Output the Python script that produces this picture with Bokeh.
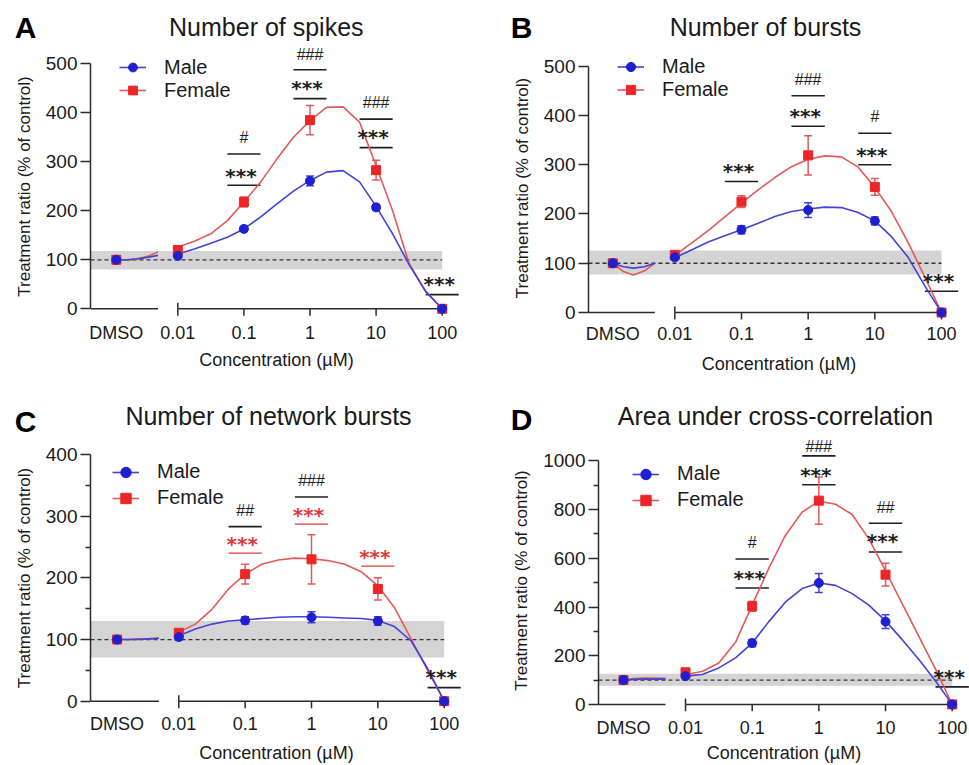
import numpy as np
from bokeh.plotting import figure
from bokeh.layouts import column, row
from bokeh.models import ColumnDataSource, Range1d, FixedTicker, Legend, LegendItem
from bokeh.core.properties import value
from bokeh.embed import file_html
from bokeh.resources import INLINE

# ------------------------------------------------------------------ data
CONCENTRATIONS = [0.01, 0.1, 1, 10, 100]            # µM
CONC_TICK_LABELS = ["0.01", "0.1", "1", "10", "100"]
CONTROL_LABEL = "DMSO"
CONTROL_LEVEL = 100
SERIES_NAMES = ["Male", "Female"]
X_AXIS_TITLE = "Concentration (µM)"
Y_AXIS_TITLE = "Treatment ratio (% of control)"
PANEL_LETTERS = ["A", "B", "C", "D"]

# sample positions (log10 µM) of the fitted curves
FIT_LOG_CONC = [-2.0, -1.75, -1.5, -1.25, -1.0, -0.75, -0.5, -0.25, 0.0,
                0.25, 0.5, 0.75, 1.0, 1.25, 1.5, 1.75, 2.0]
DMSO_FIT_LOG_X = [-2.93, -2.77, -2.62, -2.46, -2.30]

# ---- A: Number of spikes (values: DMSO, 0.01, 0.1, 1, 10, 100)
A_TITLE = "Number of spikes"
A_MALE = [100, 108, 163, 261, 207, 0]
A_MALE_SEM = [0, 4, 5, 10, 6, 0]
A_FEMALE = [100, 120, 218, 385, 283, 0]
A_FEMALE_SEM = [0, 6, 10, 30, 20, 0]
A_MALE_FIT = [112, 122, 134, 146, 163, 187, 214, 240, 262, 279, 282, 259, 209, 153, 90, 35, 0]
A_FEMALE_FIT = [126, 138, 153, 180, 218, 258, 306, 350, 384, 411, 412, 381, 292, 200, 92, 36, 0]
A_MALE_DMSO_FIT = [100, 100, 102, 105, 109]
A_FEMALE_DMSO_FIT = [100, 99, 101, 107, 116]
A_BAND = [80, 118]
A_Y_TICKS = [0, 100, 200, 300, 400, 500]
A_Y_MINOR = []
A_SIG_CONC = [0.1, 0.1, 1, 1, 10, 10, 100]
A_SIG_TEXT = ["***", "#", "***", "###", "***", "###", "***"]
A_SIG_TEXT_Y = [280, 350, 459, 520, 358, 421, 58]
A_SIG_LINE_Y = [252, 316, 429, 488, 329, 387, 29]
A_SIG_RED = [False, False, False, False, False, False, False]

# ---- B: Number of bursts
B_TITLE = "Number of bursts"
B_MALE = [100, 112, 168, 208, 186, 0]
B_MALE_SEM = [0, 5, 8, 15, 8, 0]
B_FEMALE = [100, 117, 225, 319, 255, 0]
B_FEMALE_SEM = [0, 5, 12, 40, 17, 0]
B_MALE_FIT = [111, 127, 143, 156, 168, 181, 195, 205, 210, 214, 213, 203, 186, 154, 112, 54, 0]
B_FEMALE_FIT = [116, 141, 166, 194, 222, 249, 274, 296, 311, 318, 316, 295, 254, 205, 142, 72, 0]
B_MALE_DMSO_FIT = [100, 93, 90, 93, 100]
B_FEMALE_DMSO_FIT = [100, 83, 76, 84, 100]
B_BAND = [77, 126]
B_Y_TICKS = [0, 100, 200, 300, 400, 500]
B_Y_MINOR = []
B_SIG_CONC = [0.1, 1, 1, 10, 10, 100]
B_SIG_TEXT = ["***", "***", "###", "***", "#", "***"]
B_SIG_TEXT_Y = [295, 407, 474, 328, 397, 72]
B_SIG_LINE_Y = [266, 378, 440, 300, 364, 43]
B_SIG_RED = [False, False, False, False, False, False]

# ---- C: Number of network bursts
C_TITLE = "Number of network bursts"
C_MALE = [100, 104, 131, 136, 130, 0]
C_MALE_SEM = [0, 5, 6, 9, 7, 0]
C_FEMALE = [100, 111, 206, 230, 182, 0]
C_FEMALE_SEM = [0, 5, 16, 40, 18, 0]
C_MALE_FIT = [106, 117, 125, 130, 132, 134, 136, 137, 137, 136, 135, 134, 131, 121, 98, 53, 0]
C_FEMALE_FIT = [112, 125, 149, 182, 206, 222, 229, 232, 231, 228, 222, 210, 187, 152, 101, 50, 0]
C_MALE_DMSO_FIT = [100, 100, 100, 101, 102]
C_FEMALE_DMSO_FIT = [100, 100, 101, 101, 102]
C_BAND = [71, 130]
C_Y_TICKS = [0, 100, 200, 300, 400]
C_Y_MINOR = [50, 150, 250, 350]
C_SIG_CONC = [0.1, 0.1, 1, 1, 10, 100]
C_SIG_TEXT = ["***", "##", "***", "###", "***", "***"]
C_SIG_TEXT_Y = [262, 309, 309, 358, 241, 45]
C_SIG_LINE_Y = [240, 283, 287, 331, 219, 22]
C_SIG_RED = [True, False, True, False, True, False]

# ---- D: Area under cross-correlation
D_TITLE = "Area under cross-correlation"
D_MALE = [100, 116, 252, 499, 340, 0]
D_MALE_SEM = [0, 10, 15, 39, 28, 0]
D_FEMALE = [100, 132, 403, 837, 533, 0]
D_FEMALE_SEM = [0, 12, 20, 97, 47, 0]
D_MALE_FIT = [116, 123, 150, 191, 252, 340, 421, 476, 499, 489, 455, 408, 343, 266, 184, 96, 0]
D_FEMALE_FIT = [123, 135, 170, 255, 408, 560, 695, 790, 835, 822, 780, 680, 548, 414, 279, 145, 0]
D_MALE_DMSO_FIT = [100, 103, 104, 104, 104]
D_FEMALE_DMSO_FIT = [100, 106, 108, 108, 107]
D_BAND = [77, 126]
D_Y_TICKS = [0, 200, 400, 600, 800, 1000]
D_Y_MINOR = [100, 300, 500, 700, 900]
D_SIG_CONC = [0.1, 0.1, 1, 1, 10, 10, 100]
D_SIG_TEXT = ["***", "#", "***", "###", "***", "##", "***"]
D_SIG_TEXT_Y = [537, 665, 960, 1060, 686, 810, 130]
D_SIG_LINE_Y = [478, 597, 902, 1021, 626, 744, 72]
D_SIG_RED = [False, False, False, False, False, False, False]


def panel(title, male, male_sem, female, female_sem, male_fit, female_fit, male_dfit, female_dfit,
          band, yticks, yminor, sig_conc, sig_text, sig_ty, sig_ly, sig_red):
    return dict(title=title, male=male, male_sem=male_sem, female=female, female_sem=female_sem,
                male_fit=male_fit, female_fit=female_fit, male_dfit=male_dfit, female_dfit=female_dfit,
                band=band, yticks=yticks, yminor=yminor, sig_conc=sig_conc, sig_text=sig_text,
                sig_ty=sig_ty, sig_ly=sig_ly, sig_red=sig_red)


PANELS = [
    panel(A_TITLE, A_MALE, A_MALE_SEM, A_FEMALE, A_FEMALE_SEM, A_MALE_FIT, A_FEMALE_FIT, A_MALE_DMSO_FIT,
          A_FEMALE_DMSO_FIT, A_BAND, A_Y_TICKS, A_Y_MINOR, A_SIG_CONC, A_SIG_TEXT, A_SIG_TEXT_Y, A_SIG_LINE_Y,
          A_SIG_RED),
    panel(B_TITLE, B_MALE, B_MALE_SEM, B_FEMALE, B_FEMALE_SEM, B_MALE_FIT, B_FEMALE_FIT, B_MALE_DMSO_FIT,
          B_FEMALE_DMSO_FIT, B_BAND, B_Y_TICKS, B_Y_MINOR, B_SIG_CONC, B_SIG_TEXT, B_SIG_TEXT_Y, B_SIG_LINE_Y,
          B_SIG_RED),
    panel(C_TITLE, C_MALE, C_MALE_SEM, C_FEMALE, C_FEMALE_SEM, C_MALE_FIT, C_FEMALE_FIT, C_MALE_DMSO_FIT,
          C_FEMALE_DMSO_FIT, C_BAND, C_Y_TICKS, C_Y_MINOR, C_SIG_CONC, C_SIG_TEXT, C_SIG_TEXT_Y, C_SIG_LINE_Y,
          C_SIG_RED),
    panel(D_TITLE, D_MALE, D_MALE_SEM, D_FEMALE, D_FEMALE_SEM, D_MALE_FIT, D_FEMALE_FIT, D_MALE_DMSO_FIT,
          D_FEMALE_DMSO_FIT, D_BAND, D_Y_TICKS, D_Y_MINOR, D_SIG_CONC, D_SIG_TEXT, D_SIG_TEXT_Y, D_SIG_LINE_Y,
          D_SIG_RED),
]

# ------------------------------------------------------------------ layout / style (page pixels)
# header/main: (left, top, width, height); frame: (l, t, r, b)
LAYOUTS = [
    dict(header=(0, 0, 480, 44), main=(0, 44, 480, 336), frame=(90, 44, 462, 328),
         x_m2=177.3, x_p2=441.7, y0=308.3, ytop=63.3, title=(265.8, 26.7), letter=(25, 27),
         legend=(119, 57.5, 22), tick_standoff=-6, xlabel_standoff=4),
    dict(header=(480, 0, 489, 44), main=(480, 44, 489, 336), frame=(588, 44, 969, 331),
         x_m2=674.3, x_p2=941.0, y0=312.0, ytop=65.7, title=(765, 26.7), letter=(521, 27),
         legend=(617, 54.5, 23), tick_standoff=-8, xlabel_standoff=7),
    dict(header=(0, 380, 480, 60), main=(0, 440, 480, 325), frame=(90, 440, 462, 715),
         x_m2=178.3, x_p2=443.7, y0=700.7, ytop=454.0, title=(268, 415), letter=(25, 421),
         legend=(112, 458.7, 26), tick_standoff=-2, xlabel_standoff=6),
    dict(header=(480, 380, 489, 56), main=(480, 436, 489, 329), frame=(598, 436, 969, 727),
         x_m2=685.0, x_p2=951.7, y0=706.7, ytop=460.7, title=(775, 415), letter=(521, 419),
         legend=(632, 463.7, 26), tick_standoff=-7, xlabel_standoff=2),
]
DMSO_POS = -2.93        # axis position of the vehicle group (log10 units)
AXIS_BREAK = -2.30      # end of the left x-axis segment
SIG_HALF = 0.25         # half-width (decades) of significance bars
TICK_LEN = 7            # px

FONT = "Liberation Sans"
INK = "#1a1a1a"
AXIS = "#2b2b2b"
MALE_MARK, MALE_LINE = "#1f1fd2", "#4343d6"
FEM_MARK, FEM_LINE = "#ec2626", "#e35a5a"
SIG_RED = "#e03a3a"


def build_header(P, L, letter):
    hx, hy, hw, hh = L["header"]
    h = figure(width=hw, height=hh, x_range=Range1d(0, hw), y_range=Range1d(hh, 0),
               output_backend="svg", toolbar_location=None, x_axis_location=None, y_axis_location=None,
               title_location=None, min_border=0, min_border_left=0, min_border_right=0,
               min_border_top=0, min_border_bottom=0)
    h.outline_line_color = None
    h.xgrid.visible = False
    h.ygrid.visible = False
    h.background_fill_color = "white"
    h.border_fill_color = "white"
    h.text(x=[L["title"][0] - hx], y=[L["title"][1] - hy], text=[P["title"]], text_font=value(FONT),
           text_font_size=value("25px"), text_color=INK, text_align="center", text_baseline="middle")
    h.text(x=[L["letter"][0] - hx], y=[L["letter"][1] - hy], text=[letter], text_font=value(FONT),
           text_font_size=value("30px"), text_font_style="bold", text_color="#000000",
           text_align="center", text_baseline="middle")
    return h


def build_main(P, L):
    mx, my, mw, mh = L["main"]
    fl, ft, fr, fb = L["frame"]
    ymax = P["yticks"][-1]
    kx = (L["x_p2"] - L["x_m2"]) / 4.0
    ky = (L["y0"] - L["ytop"]) / ymax

    def dx(px):
        return -2.0 + (px - L["x_m2"]) / kx

    def dy(py):
        return (L["y0"] - py) / ky

    p = figure(width=mw, height=mh, x_range=Range1d(dx(fl), dx(fr)), y_range=Range1d(dy(fb), dy(ft)),
               output_backend="svg", toolbar_location=None, title_location=None,
               min_border_left=fl - mx, min_border_right=mx + mw - fr,
               min_border_top=ft - my, min_border_bottom=my + mh - fb)
    p.outline_line_color = None
    p.xgrid.visible = False
    p.ygrid.visible = False
    p.background_fill_color = "white"
    p.border_fill_color = "white"

    logc = [float(np.round(np.log10(c), 6)) for c in CONCENTRATIONS]
    xpos = [DMSO_POS] + logc
    lo_x, hi_x = logc[0], logc[-1]
    xs = dx(fl)

    # control band and reference line
    p.quad(left=[xs], right=[hi_x], bottom=[P["band"][0]], top=[P["band"][1]],
           fill_color="#d4d4d4", line_color=None)
    p.line([xs, hi_x], [CONTROL_LEVEL, CONTROL_LEVEL], line_color="#333333", line_width=1.3, line_dash="4 3")

    # broken x axis line with its ticks
    p.segment(x0=[xs, lo_x], y0=[0, 0], x1=[AXIS_BREAK, hi_x], y1=[0, 0], line_color=AXIS, line_width=1.5)
    p.segment(x0=logc, y0=[0] * len(logc), x1=logc, y1=[-TICK_LEN / ky] * len(logc),
              line_color=AXIS, line_width=1.5)
    p.segment(x0=[lo_x], y0=[0], x1=[lo_x], y1=[6.0 / ky], line_color=AXIS, line_width=1.5)

    # significance bars
    sx = [float(np.log10(c)) for c in P["sig_conc"]]
    scol = [SIG_RED if r else "#202020" for r in P["sig_red"]]
    swid = [1.2 if r else 1.6 for r in P["sig_red"]]
    p.segment(x0=[v - SIG_HALF for v in sx], x1=[v + SIG_HALF for v in sx],
              y0=P["sig_ly"], y1=P["sig_ly"], line_color=scol, line_width=swid)

    # fitted curves
    f_line = p.line(FIT_LOG_CONC, P["female_fit"], line_color=FEM_LINE, line_width=1.6)
    m_line = p.line(FIT_LOG_CONC, P["male_fit"], line_color=MALE_LINE, line_width=1.6)
    p.line(DMSO_FIT_LOG_X, P["female_dfit"], line_color=FEM_LINE, line_width=1.6)
    p.line(DMSO_FIT_LOG_X, P["male_dfit"], line_color=MALE_LINE, line_width=1.6)

    # error bars
    cw = 4.0 / kx
    for vals, sem, col in ((P["female"], P["female_sem"], FEM_LINE), (P["male"], P["male_sem"], MALE_LINE)):
        lo = [v - s for v, s in zip(vals, sem)]
        hi = [v + s for v, s in zip(vals, sem)]
        p.segment(x0=xpos, y0=lo, x1=xpos, y1=hi, line_color=col, line_width=1.5)
        p.segment(x0=[x - cw for x in xpos] * 2, y0=lo + hi, x1=[x + cw for x in xpos] * 2, y1=lo + hi,
                  line_color=col, line_width=1.5)

    f_sc = p.scatter(xpos, P["female"], marker="square", size=9, fill_color=FEM_MARK, line_color=FEM_MARK)
    m_sc = p.scatter(xpos, P["male"], marker="circle", size=9, fill_color=MALE_MARK, line_color=MALE_MARK)

    # significance texts
    for is_star, font, size in ((True, "DejaVu Sans", "20px"), (False, FONT, "16px")):
        idx = [i for i, t in enumerate(P["sig_text"]) if t.startswith("*") == is_star]
        if not idx:
            continue
        src = ColumnDataSource(dict(
            x=[sx[i] for i in idx], y=[P["sig_ty"][i] for i in idx],
            t=[P["sig_text"][i] for i in idx], c=[scol[i] for i in idx]))
        p.text(x="x", y="y", text="t", source=src, text_color="c", text_font=value(font),
               text_font_size=value(size), text_font_style="bold" if is_star else "normal",
               text_align="center", text_baseline="middle",
               x_offset=-3 if is_star else 0, y_offset=4 if is_star else 0)

    # y axis
    ya = p.yaxis[0]
    ya.ticker = FixedTicker(ticks=P["yticks"], minor_ticks=P["yminor"])
    ya.bounds = (0, ymax)
    ya.axis_label = Y_AXIS_TITLE
    ya.axis_label_text_font = FONT
    ya.axis_label_text_font_size = "17px"
    ya.axis_label_text_font_style = "normal"
    ya.axis_label_text_color = INK
    ya.axis_label_standoff = 9
    ya.major_label_text_font = FONT
    ya.major_label_text_font_size = "19px"
    ya.major_label_text_color = INK
    ya.major_label_standoff = 3
    ya.major_tick_out = 10
    ya.major_tick_in = 0
    ya.minor_tick_out = 5
    ya.minor_tick_in = 0
    ya.axis_line_width = 1.5
    ya.major_tick_line_width = 1.5
    ya.minor_tick_line_width = 1.5
    ya.axis_line_color = AXIS
    ya.major_tick_line_color = AXIS
    ya.minor_tick_line_color = AXIS

    # x axis: labels only (its line and ticks are drawn at y = 0 above)
    xa = p.xaxis[0]
    xa.ticker = FixedTicker(ticks=xpos, minor_ticks=[])
    xa.major_label_overrides = {v: lab for v, lab in zip(xpos, [CONTROL_LABEL] + CONC_TICK_LABELS)}
    xa.axis_line_color = None
    xa.major_tick_line_color = None
    xa.minor_tick_line_color = None
    xa.major_tick_out = 0
    xa.major_tick_in = 0
    xa.minor_tick_out = 0
    xa.minor_tick_in = 0
    xa.major_label_standoff = L["tick_standoff"]
    xa.major_label_text_font = FONT
    xa.major_label_text_font_size = "18px"
    xa.major_label_text_color = INK
    xa.axis_label = X_AXIS_TITLE
    xa.axis_label_text_font = FONT
    xa.axis_label_text_font_size = "18px"
    xa.axis_label_text_font_style = "normal"
    xa.axis_label_text_color = INK
    xa.axis_label_standoff = L["xlabel_standoff"]

    # legend
    lx, ltop, rh = L["legend"]
    legend = Legend(items=[LegendItem(label=SERIES_NAMES[0], renderers=[m_line, m_sc]),
                           LegendItem(label=SERIES_NAMES[1], renderers=[f_line, f_sc])],
                    location=(lx - fl, fb - (ltop + 2 * rh)), orientation="vertical",
                    glyph_width=27, glyph_height=rh, label_height=rh, label_standoff=18,
                    spacing=0, padding=0, margin=0, border_line_color=None, background_fill_alpha=0,
                    label_text_font=FONT, label_text_font_size="20px", label_text_color=INK)
    p.add_layout(legend)
    return p


cells = []
for P, L, letter in zip(PANELS, LAYOUTS, PANEL_LETTERS):
    cells.append(column(row(build_header(P, L, letter)), row(build_main(P, L)), spacing=0))

page = column(row(cells[0], cells[1], spacing=0), row(cells[2], cells[3], spacing=0), spacing=0)

with open("out.html", "w") as f:
    f.write(file_html(page, INLINE, title="Concentration response"))
